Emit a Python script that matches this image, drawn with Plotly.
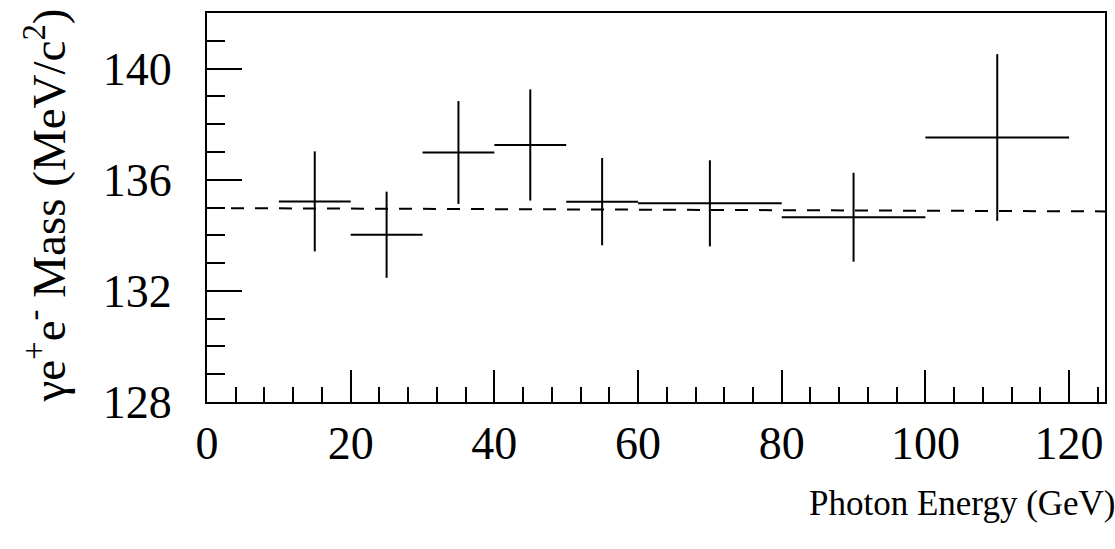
import plotly.graph_objects as go

# Data
energy_center = [15, 25, 35, 45, 55, 70, 90, 110]
energy_halfwidth = [5, 5, 5, 5, 5, 10, 10, 10]
mass = [135.22, 134.02, 136.98, 137.25, 135.21, 135.15, 134.65, 137.52]
mass_err = [1.8, 1.55, 1.85, 2.0, 1.57, 1.55, 1.6, 3.0]

fit_x = [0, 125]
fit_y = [134.98, 134.86]

x_tickvals = [0, 20, 40, 60, 80, 100, 120]
y_tickvals = [128, 132, 136, 140]

FONT = "Liberation Serif"

fig = go.Figure()

fig.add_trace(go.Scatter(
    x=fit_x, y=fit_y, mode="lines",
    line=dict(color="black", width=2, dash="13px,11px"),
    hoverinfo="skip", showlegend=False,
))

fig.add_trace(go.Scatter(
    x=energy_center, y=mass, mode="markers",
    marker=dict(size=0.1, color="black"),
    error_x=dict(type="data", array=energy_halfwidth, visible=True,
                 thickness=2, width=0, color="black"),
    error_y=dict(type="data", array=mass_err, visible=True,
                 thickness=2, width=0, color="black"),
    showlegend=False,
))

fig.update_layout(
    width=1115, height=549,
    margin=dict(l=207, r=8, t=13, b=147),
    paper_bgcolor="white", plot_bgcolor="white",
    font=dict(family=FONT, color="black"),
    showlegend=False,
)

fig.update_xaxes(
    range=[0, 125], showgrid=False, zeroline=False,
    showline=True, linecolor="black", linewidth=2, mirror=True,
    ticks="inside", ticklen=32, tickwidth=2, tickcolor="black",
    tickvals=x_tickvals, ticktext=[str(v) for v in x_tickvals],
    tickfont=dict(family=FONT, size=46, color="black"),
    ticklabelstandoff=0,
    minor=dict(ticks="inside", ticklen=15, tickwidth=2, tickcolor="black",
               dtick=4, tick0=0, showgrid=False),
)

fig.update_yaxes(
    range=[128, 142], showgrid=False, zeroline=False,
    showline=True, linecolor="black", linewidth=2, mirror=True,
    ticks="inside", ticklen=35, tickwidth=2, tickcolor="black",
    tickvals=y_tickvals, ticktext=[str(v) for v in y_tickvals],
    tickfont=dict(family=FONT, size=46, color="black"),
    ticklabelstandoff=24,
    minor=dict(ticks="inside", ticklen=18, tickwidth=2, tickcolor="black",
               dtick=1, tick0=128, showgrid=False),
)

fig.add_annotation(
    text="Photon Energy (GeV)", xref="paper", yref="paper",
    x=1.015, y=-0.26, xanchor="right", yanchor="middle",
    showarrow=False, font=dict(family=FONT, size=35, color="black"),
)

fig.add_annotation(
    text="γe<sup>+</sup>e<sup>-</sup> Mass (MeV/c<sup>2</sup>)",
    xref="paper", yref="paper",
    x=-0.18, y=0.506, xanchor="center", yanchor="middle",
    textangle=-90, showarrow=False,
    font=dict(family=FONT, size=47, color="black"),
)

fig.write_html("out.html")
